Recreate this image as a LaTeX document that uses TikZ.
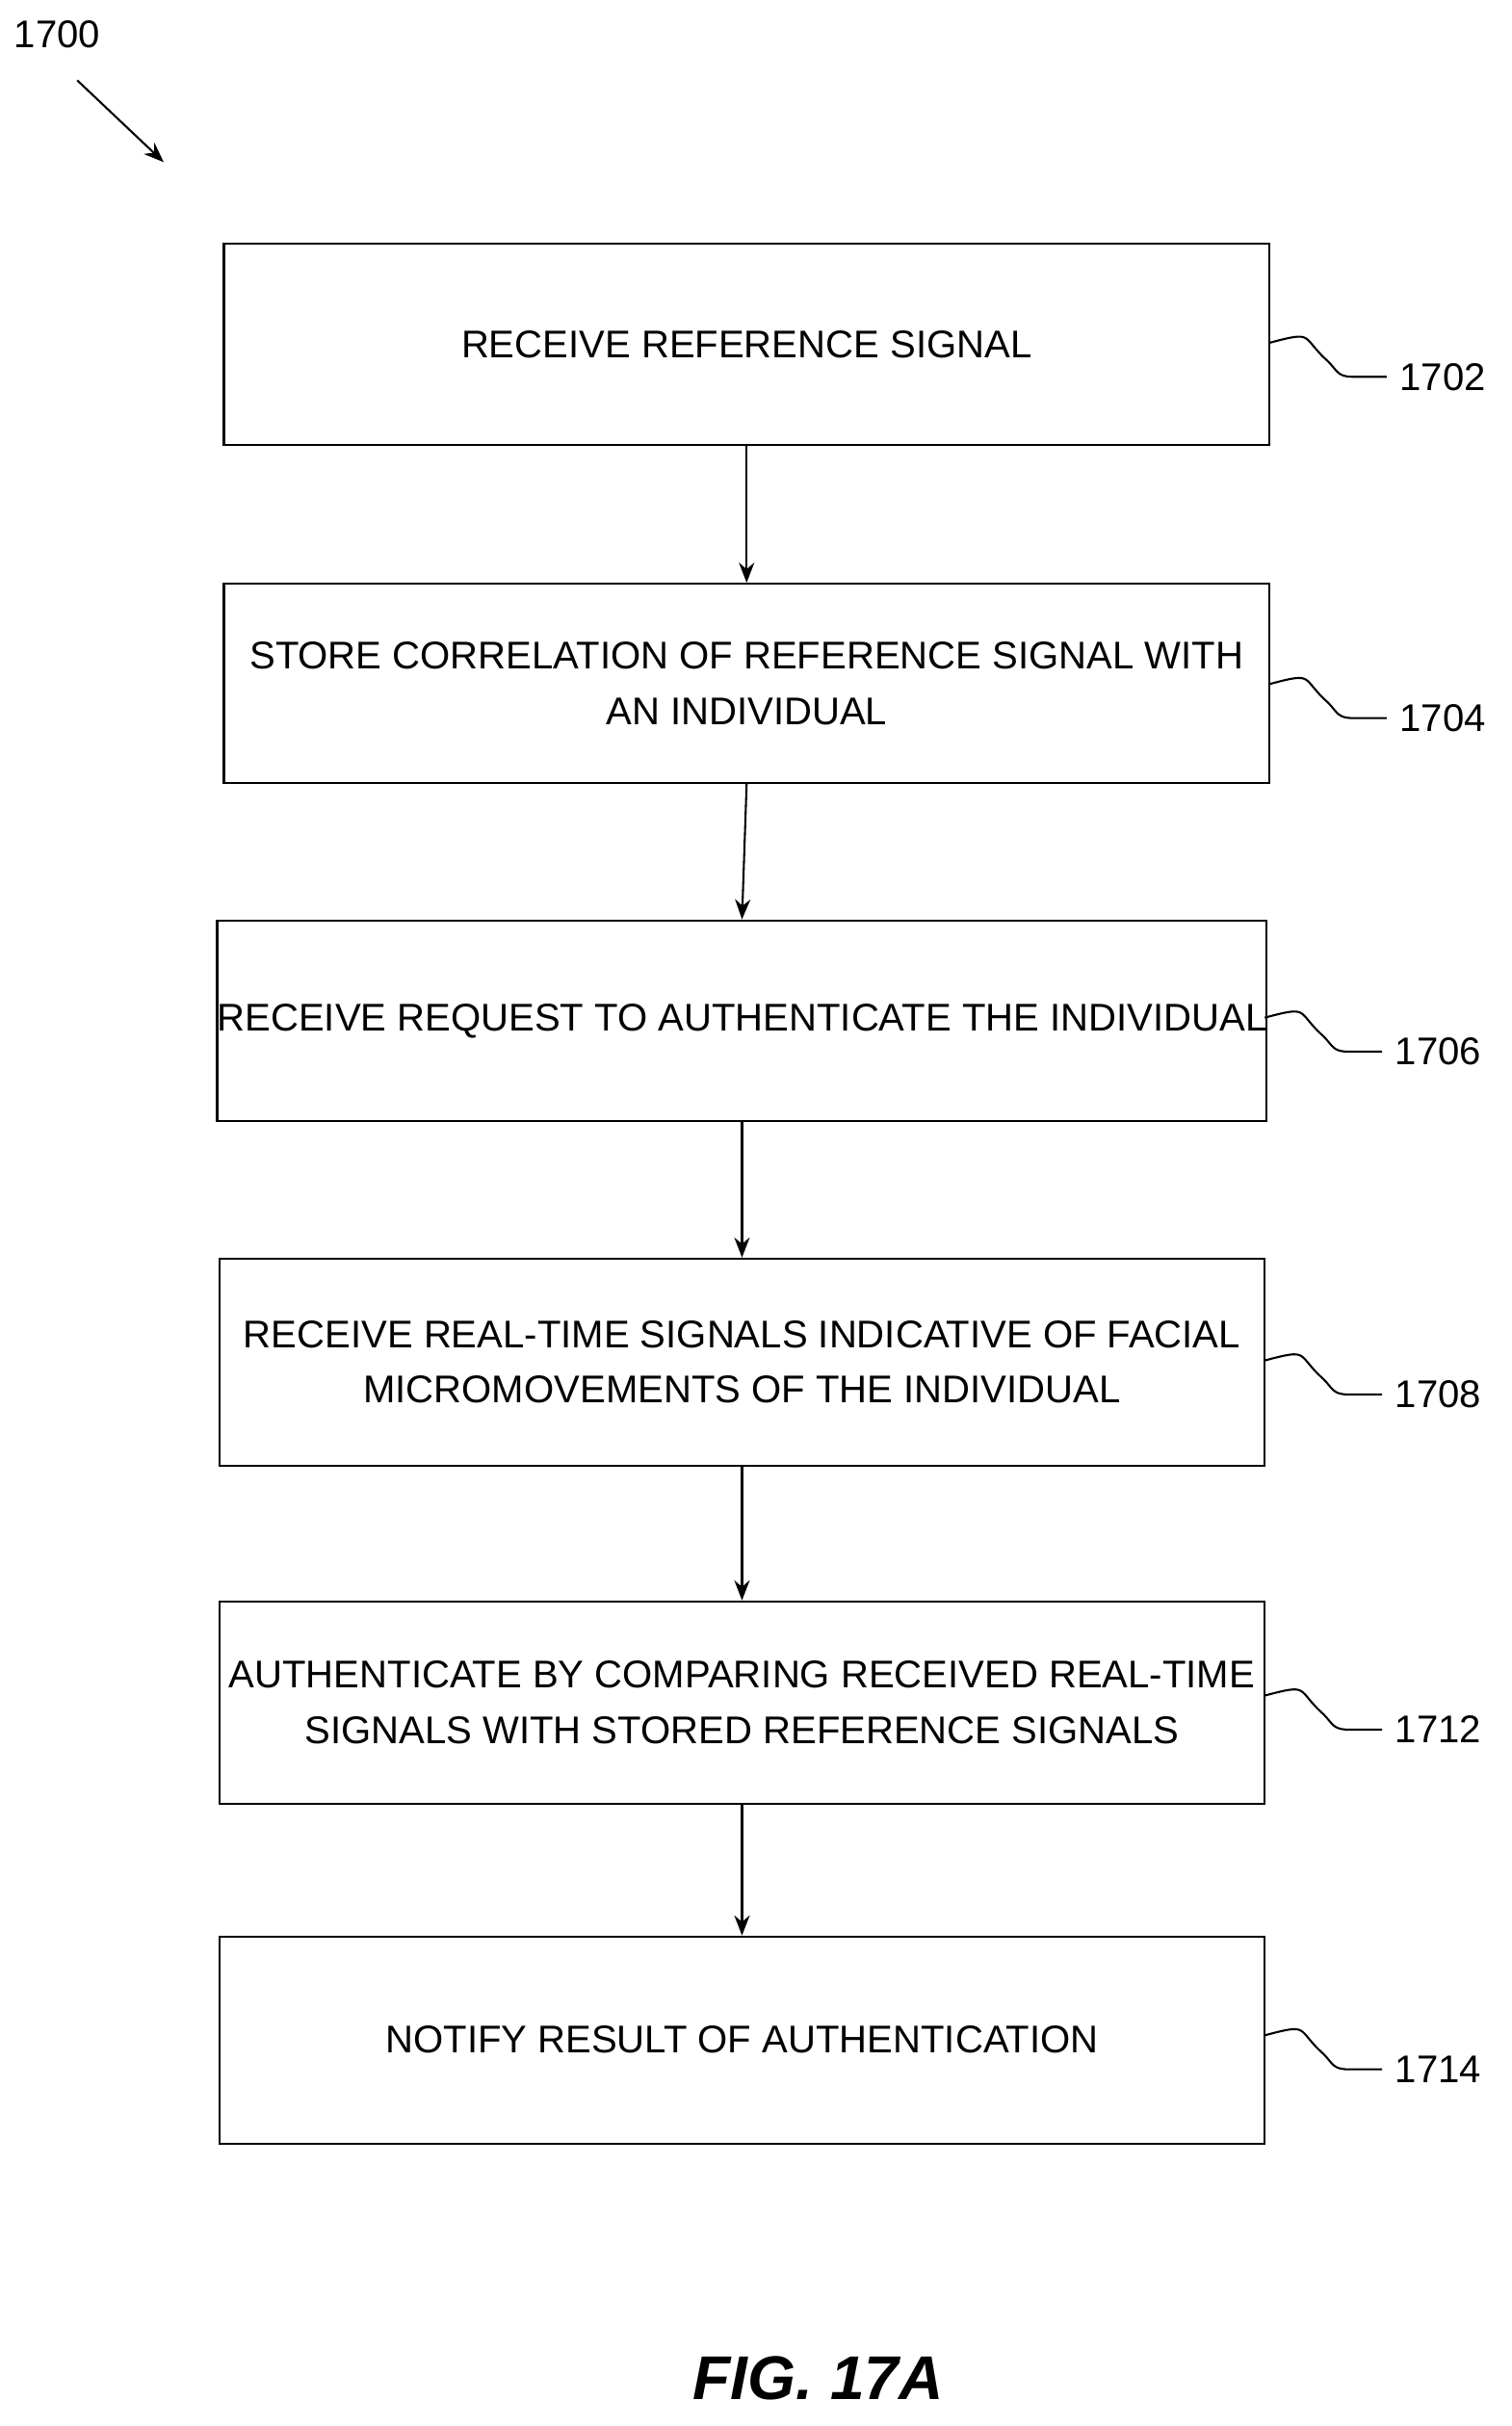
\documentclass[tikz,border=0pt]{standalone}
\usepackage{fontspec}
\setmainfont{Liberation Sans}
\usetikzlibrary{arrows.meta}
\begin{document}
\begin{tikzpicture}[x=1pt,y=-1pt,
 box/.style={draw,line width=1.3pt,inner sep=0pt,align=center,font=\fontsize{25}{36}\selectfont},
 ref/.style={font=\fontsize{25}{30}\selectfont,anchor=west},
 arr/.style={line width=1.3pt,-{Stealth[length=13pt,width=10pt]}}]
\useasboundingbox (0,0) rectangle (979,1571);
\newcommand{\mybox}[6]{\node[box,minimum width=#4-#2,minimum height=#5-#3] (#1) at ({(#2+#4)/2},{(#3+#5)/2}) {#6};}
\mybox{b1}{145}{158}{822}{288}{RECEIVE REFERENCE SIGNAL}
\mybox{b2}{145}{378}{822}{507}{STORE CORRELATION OF REFERENCE SIGNAL WITH\\AN INDIVIDUAL}
\mybox{b3}{142}{596}{819}{726}{RECEIVE REQUEST TO AUTHENTICATE THE INDIVIDUAL}
\mybox{b4}{142}{815}{819}{949}{RECEIVE REAL-TIME SIGNALS INDICATIVE OF FACIAL\\MICROMOVEMENTS OF THE INDIVIDUAL}
\mybox{b5}{142}{1037}{819}{1168}{AUTHENTICATE BY COMPARING RECEIVED REAL-TIME\\SIGNALS WITH STORED REFERENCE SIGNALS}
\mybox{b6}{142}{1254}{819}{1388}{NOTIFY RESULT OF AUTHENTICATION}
\draw[arr] (b1.south) -- (b2.north);
\draw[arr] (b2.south) -- (b3.north);
\draw[arr] (b3.south) -- (b4.north);
\draw[arr] (b4.south) -- (b5.north);
\draw[arr] (b5.south) -- (b6.north);
\newcommand{\squig}[4]{%
 \coordinate (s#1) at (#2,#3);
 \draw[line width=1.3pt] (s#1) .. controls ++(30,-8) and ++(-18,-16) .. ++(38,12) .. controls ++(6,6) and ++(-10,0) .. ++(16,10) -- ++(22,0) coordinate (e#1);
 \node[ref] (l#1) at ([xshift=5pt]e#1) {#4};}
\squig{1}{822}{222}{1702}
\squig{2}{822}{443}{1704}
\squig{3}{819}{659}{1706}
\squig{4}{819}{881}{1708}
\squig{5}{819}{1098}{1712}
\squig{6}{819}{1318}{1714}
\node[font=\fontsize{25}{30}\selectfont] (t) at (37,22) {1700};
\coordinate (a1) at (50,52);
\coordinate (a2) at (106,105);
\draw[arr] (a1) -- (a2);
\node[font=\fontsize{40}{48}\selectfont\bfseries\itshape] (fig) at (530,1540) {FIG. 17A};
\end{tikzpicture}
\end{document}
